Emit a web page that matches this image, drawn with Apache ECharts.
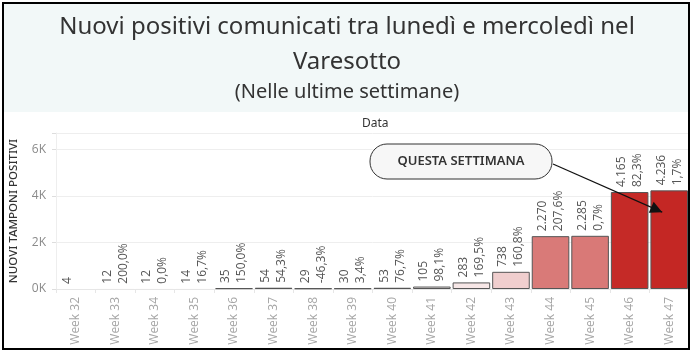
<!DOCTYPE html>
<html>
<head>
<meta charset="utf-8">
<script src="https://cdn.jsdelivr.net/npm/echarts@6/dist/echarts.min.js"></script>
<style>
html,body{margin:0;padding:0;background:#fff;}
#c{width:694px;height:354px;}
</style>
</head>
<body>
<div id="c"></div>
<script>
const weeks = ['Week 32','Week 33','Week 34','Week 35','Week 36','Week 37','Week 38','Week 39','Week 40','Week 41','Week 42','Week 43','Week 44','Week 45','Week 46','Week 47'];
const positives = [4,12,12,14,35,54,29,30,53,105,283,738,2270,2285,4165,4236];
const yTicks = [0,2000,4000,6000];
const titleLines = ['Nuovi positivi comunicati tra lunedì e mercoledì nel','Varesotto'];
const subtitle = '(Nelle ultime settimane)';
const annotationText = 'QUESTA SETTIMANA';

function fmtIt(v){ return String(v).replace(/\B(?=(\d{3})+(?!\d))/g,'.'); }
function pctChange(i){
  if(i===0) return '';
  const p = (positives[i]/positives[i-1]-1)*100;
  return p.toFixed(1).replace('.',',')+'%';
}
function hexToRgb(h){return [parseInt(h.slice(1,3),16),parseInt(h.slice(3,5),16),parseInt(h.slice(5,7),16)];}
const stops = [[0,'#fbf7f7'],[0.536,'#d97a78'],[1,'#c42724']];
function colorFor(v){
  const t = v/Math.max(...positives);
  for(let k=1;k<stops.length;k++){
    if(t<=stops[k][0]){
      const a=hexToRgb(stops[k-1][1]), b=hexToRgb(stops[k][1]);
      const f=(t-stops[k-1][0])/(stops[k][0]-stops[k-1][0]);
      return 'rgb('+a.map((x,j)=>Math.round(x+(b[j]-x)*f)).join(',')+')';
    }
  }
  return stops[stops.length-1][1];
}

const chart = echarts.init(document.getElementById('c'), null, {renderer:'canvas'});
const TFONT = 'Noto Sans';
const FONT = 'Open Sans';
const option = {
  animation:false,
  backgroundColor:'#ffffff',
  title:{
    text: titleLines.join('\n'),
    subtext: subtitle,
    left:'center', top:5, itemGap:0,
    textStyle:{fontFamily:TFONT,fontSize:24,fontWeight:'normal',color:'#333',lineHeight:35},
    subtextStyle:{fontFamily:TFONT,fontSize:20,color:'#333',lineHeight:24}
  },
  grid:{left:56,right:5,top:133,bottom:65,containLabel:false},
  xAxis:{
    type:'category', data:weeks,
    axisLine:{show:true,lineStyle:{color:'#e6e6e6'}},
    axisTick:{show:true,length:4,lineStyle:{color:'#e6e6e6'}},
    axisLabel:{rotate:90,margin:8,color:'#a6a6a6',fontFamily:FONT,fontSize:12}
  },
  yAxis:{
    type:'value', min:0, max:6700, interval:2000,
    name:'NUOVI TAMPONI POSITIVI', nameLocation:'middle', nameRotate:90, nameGap:36,
    nameTextStyle:{fontFamily:TFONT,fontSize:11.5,color:'#333',fontWeight:500},
    axisLine:{show:true,lineStyle:{color:'#eeeeee'}},
    axisTick:{show:true,length:4,lineStyle:{color:'#dddddd'}},
    axisLabel:{margin:10,color:'#8a8a8a',fontFamily:FONT,fontSize:12,
      formatter:v=> yTicks.includes(v) ? (v/1000)+'K' : ''},
    splitLine:{show:true,lineStyle:{color:'#eeeeee'}}
  },
  series:[{
    type:'bar',
    barCategoryGap:'5%',
    data: positives.map((v,i)=>({
      value:v,
      itemStyle:{color:colorFor(v),borderColor:'#555',borderWidth: v<15?0:1}
    })),
    label:{
      show:true, position:'top', rotate:90, align:'left', verticalAlign:'middle', distance:5,
      fontFamily:FONT, fontSize:12, color:'#555', lineHeight:16,
      formatter:p=> fmtIt(p.value)+'\n'+pctChange(p.dataIndex)
    }
  }]
};
chart.setOption(option);

// annotation anchored on the Week 47 bar
const tip = chart.convertToPixel({gridIndex:0},[weeks.length-1, 3300]);
const tipX = tip[0]-7, tipY = tip[1];
chart.setOption({
  graphic:[
    {type:'rect',z:-10,silent:true,shape:{x:4,y:4,width:684,height:108},style:{fill:'#f2f8f8'}},
    {type:'rect',z:100,silent:true,shape:{x:3,y:3,width:686,height:346},style:{fill:'none',stroke:'#000',lineWidth:2}},
    {type:'text',left:362,top:118,style:{text:'Data',font:'12px '+TFONT,fill:'#333'}},
    {type:'line',z:50,shape:{x1:553,y1:164,x2:tipX,y2:tipY},style:{stroke:'#111',lineWidth:1.2}},
    {type:'polygon',z:51,shape:{points:(function(){
      const dx=tipX-553, dy=tipY-164, L=Math.hypot(dx,dy), ux=dx/L, uy=dy/L;
      const bx=tipX-ux*12, by=tipY-uy*12;
      return [[tipX,tipY],[bx-uy*6,by+ux*6],[bx+uy*6,by-ux*6]];
    })()},style:{fill:'#111'}},
    {type:'rect',z:52,shape:{x:370,y:144,width:182,height:35,r:17},style:{fill:'#f7f7f7',stroke:'#333',lineWidth:1}},
    {type:'text',z:53,x:461,y:161.5,style:{text:annotationText,font:'600 13px '+TFONT,fill:'#333',textAlign:'center',textVerticalAlign:'middle'}}
  ]
});
</script>
</body>
</html>
